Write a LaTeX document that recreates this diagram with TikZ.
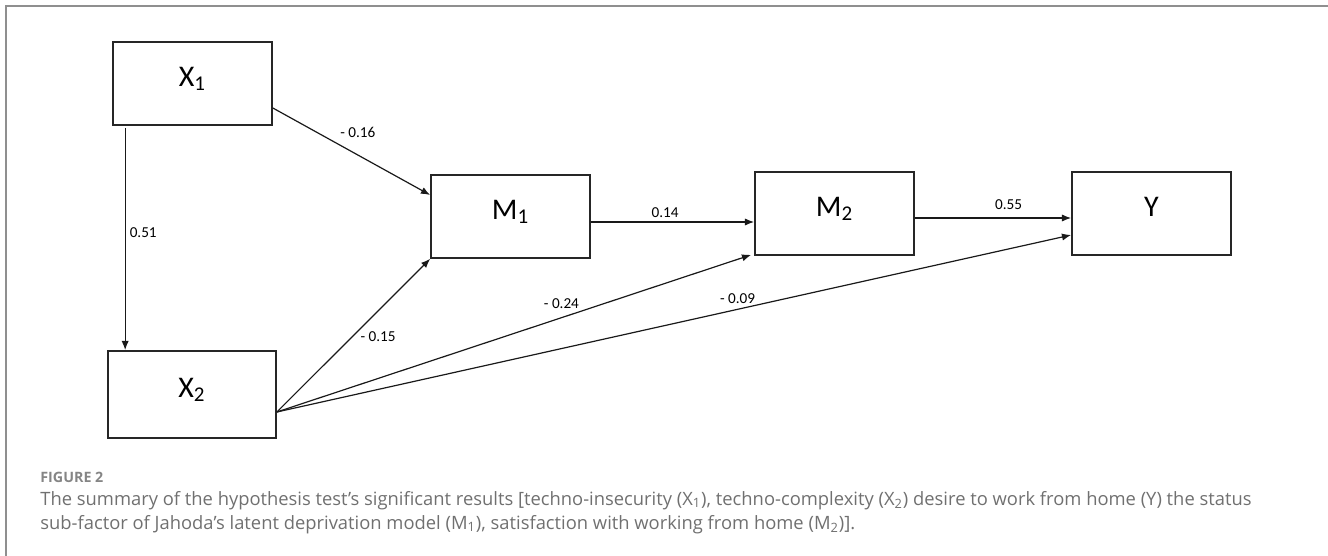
\documentclass[tikz,border=0pt]{standalone}
\usepackage{fontspec}
\setmainfont{Carlito}
\newfontfamily\capfont{Open Sans}
\usetikzlibrary{calc,arrows.meta,positioning}
\definecolor{framegray}{HTML}{8F8F8F}
\definecolor{capgray}{HTML}{707070}
\definecolor{figgray}{HTML}{858585}
\newcommand{\capone}{The summary of the hypothesis test’s significant results [techno-insecurity (X\textsubscript{1}), techno-complexity (X\textsubscript{2}) desire to work from home (Y) the status}
\newcommand{\captwo}{sub-factor of Jahoda’s latent deprivation model (M\textsubscript{1}), satisfaction with working from home (M\textsubscript{2})].}
% caption sizes fitted to the printed line widths
\newlength\capwd
\newlength\figwd
\settowidth\capwd{\capfont\fontsize{10}{12}\selectfont\capone}
\settowidth\figwd{\capfont\bfseries\fontsize{10}{12}\selectfont FIGURE 2}
\pgfmathsetmacro\capsize{10*605.5/\capwd}
\pgfmathsetmacro\figsize{10*31.5/\figwd}
\tikzset{
  var/.style={draw=black!85, line width=0.85pt, minimum width=79.5pt, minimum height=41.5pt,
    inner sep=0pt, text height=11pt, text depth=8pt, font=\fontsize{15}{18}\selectfont},
  path/.style={-{Latex[length=4.6pt,width=3.6pt]}, line width=0.6pt, draw=black!90},
  coef/.style={inner sep=1pt, font=\fontsize{7.6}{9}\selectfont},
}
\begin{document}
\begin{tikzpicture}[x=0.5pt, y=-0.5pt,
    capfig/.style={inner sep=0pt, anchor=base west, text=figgray, font=\capfont\bfseries\fontsize{\figsize}{8}\selectfont},
    captxt/.style={inner sep=0pt, anchor=base west, align=left, text=capgray, font=\capfont\fontsize{\capsize}{12}\selectfont}]

  \useasboundingbox (0,0) rectangle (1328,556);
  \draw[framegray, line width=1pt] (6,556) -- (6,6) -- (1328,6);

  % variables
  \node[var] (X1) at (192.5,83.5) {X\textsubscript{1}};
  \node[var, minimum width=84pt, minimum height=43.5pt] (X2) at (192,394.5) {X\textsubscript{2}};
  \node[var] (M1) at (510.5,216.5) {M\textsubscript{1}};
  \node[var] (M2) at (834.5,213.5) {M\textsubscript{2}};
  \node[var] (Y) at (1151.5,213.5) {Y};

  % paths
  \draw[path] ($(X1.south west)+(13,2)$) -- ($(X2.north west)+(18,0)$)
    node[coef, pos=.47, right=1pt] {0.51};
  \draw[path] ($(X1.east)+(0,24.5)$) -- ($(M1.west)+(0,-21.5)$)
    node[coef, pos=.54, above=7.5pt] {- 0.16};
  \draw[path] ($(X2.east)+(0,17.5)$) -- (M1.south west)
    node[coef, pos=.49, right=3pt] {- 0.15};
  \draw[path] ($(X2.east)+(0,17.5)$) -- ($(M2.south west)+(-3,-1)$)
    node[coef, pos=.6, above=3.3pt] {- 0.24};
  \draw[path] ($(X2.east)+(0,17.5)$) -- ($(Y.west)+(0,21.5)$)
    node[coef, pos=.58, above=1.5pt] {- 0.09};
  \draw[path] ($(M1.east)+(0,5.5)$) -- ($(M2.west)+(0,8.5)$)
    node[coef, pos=.455, above=0.75pt] {0.14};
  \draw[path] ($(M2.east)+(0,4.5)$) -- ($(Y.west)+(0,4.5)$)
    node[coef, pos=.6, above=2.75pt] {0.55};

  % caption (base anchor sits on the last line)
  \node[capfig] (fig) at (40,482) {FIGURE 2};
  \node[captxt] (cap) at (40,529) {\capone\\ \captwo};
\end{tikzpicture}
\end{document}
